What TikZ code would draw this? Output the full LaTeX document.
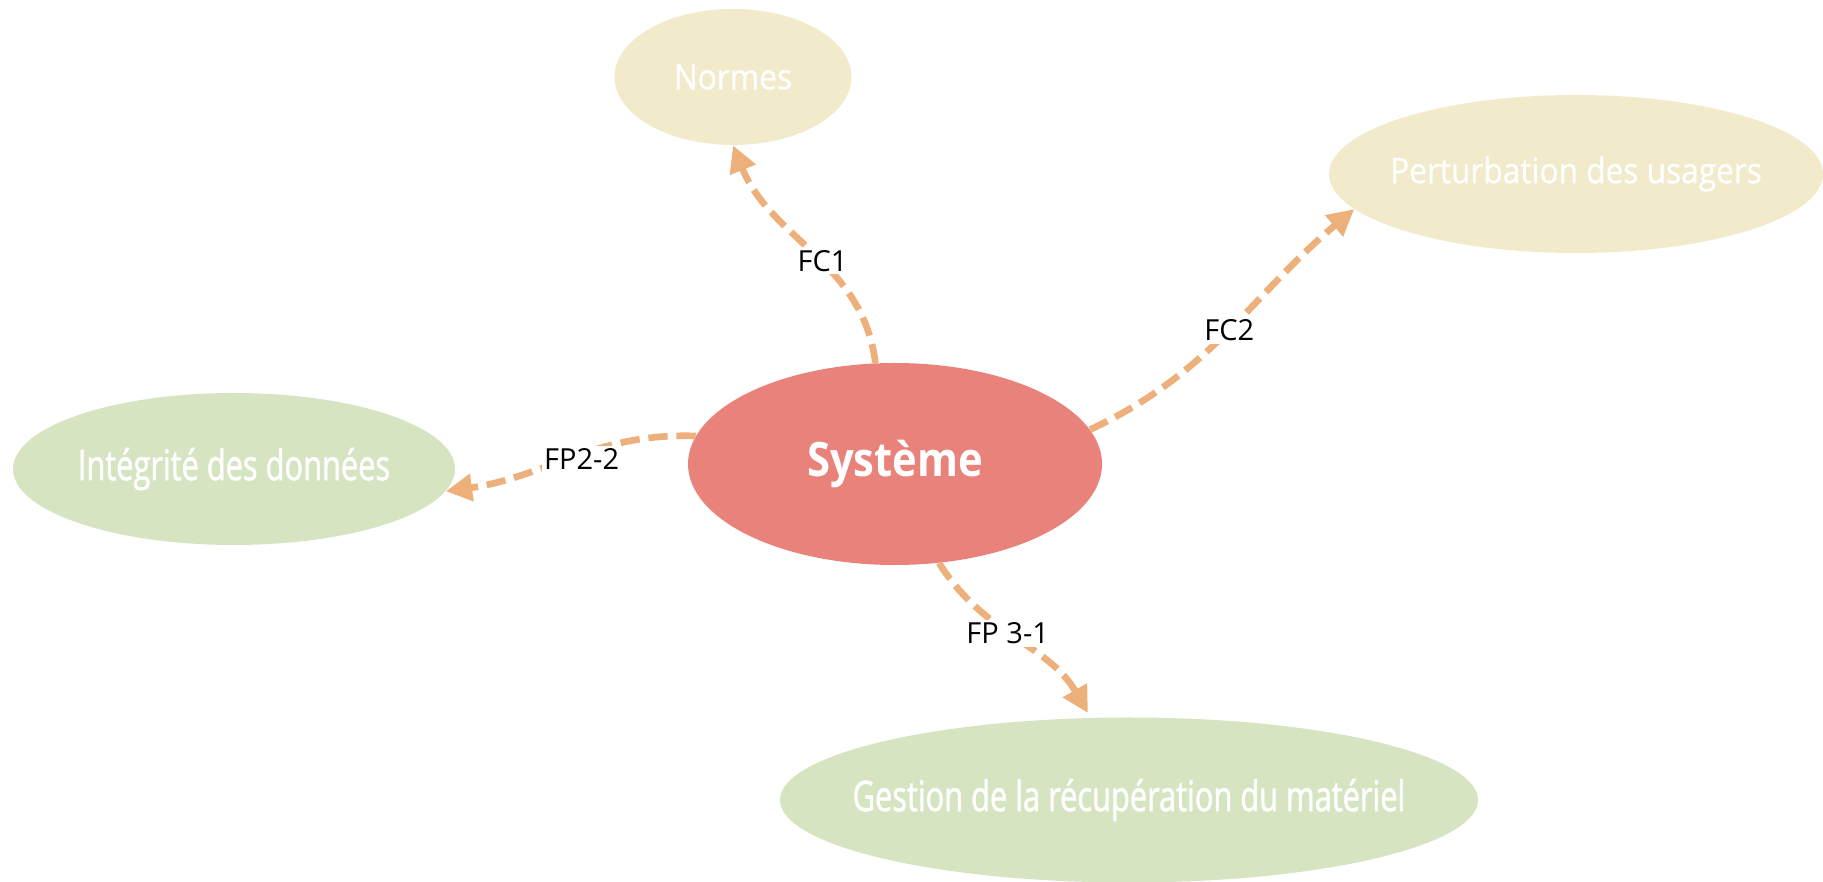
\documentclass[tikz,border=0pt]{standalone}
\usepackage{fontspec}
\setmainfont{Open Sans}
\newfontfamily\condfont[FakeStretch=0.73, FakeBold=1.2]{Open Sans}
\newfontfamily\midfont[FakeStretch=0.9, FakeBold=0.8]{Open Sans}
\newfontfamily\sysfont[FakeStretch=0.88]{Open Sans}
\usepackage{tikz}
\usetikzlibrary{positioning, arrows.meta, shapes, shapes.geometric}
\definecolor{sysred}{HTML}{E8827A}
\definecolor{fcbeige}{HTML}{F2EBCB}
\definecolor{fpgreen}{HTML}{D7E4C2}
\definecolor{arrorange}{HTML}{EEB07A}
\tikzset{blob/.style={ellipse, inner sep=0, text=white}}
\tikzset{sysblob/.style={blob, fill=sysred, font=\sysfont\bfseries\fontsize{27}{30}\selectfont}}
\tikzset{fcblob/.style={blob, fill=fcbeige, font=\midfont\fontsize{20}{24}\selectfont}}
\tikzset{fpblob/.style={blob, fill=fpgreen, font=\condfont\fontsize{24}{28}\selectfont}}
\tikzset{arr/.style={draw=arrorange, line width=3.8pt, dash pattern=on 11pt off 5pt, -{Triangle[length=15pt, width=15pt]}}}
\tikzset{lbl/.style={fill=white, inner sep=1.5pt, text=black, font=\fontsize{16.5}{19}\selectfont}}

\begin{document}
\begin{tikzpicture}
    \useasboundingbox (0,0) rectangle (36.46,17.64);
    \node[sysblob, minimum width=8.28cm, minimum height=4.04cm] (sys) at (17.90,8.36) {\makebox[0pt]{Système}};
    \node[fcblob, minimum width=4.74cm, minimum height=2.72cm] (norm) at (14.66,16.10) {\makebox[0pt]{Normes}};
    \node[fcblob, minimum width=9.88cm, minimum height=3.16cm] (pert) at (31.52,14.16) {\makebox[0pt]{Perturbation des usagers}};
    \node[fpblob, minimum width=8.84cm, minimum height=3.04cm] (integ) at (4.68,8.26) {\makebox[0pt]{Intégrité des données}};
    \node[fpblob, minimum width=13.96cm, minimum height=3.30cm] (gest) at (22.58,1.64) {\makebox[0pt]{Gestion de la récupération du matériel}};
    % contraintes
    \draw[arr] (sys.101) to[out=97, in=-68] node[lbl, pos=0.45] {FC1} (norm.south);
    \draw[arr] (sys.10) to[out=25, in=-140] node[lbl] {FC2} (pert.189);
    % fonctions principales
    \draw[arr] (sys.172) to[out=178, in=8] node[lbl, pos=0.45, yshift=-3pt] {FP2-2} (integ.-6);
    \draw[arr, shorten >=3pt] (sys.-66) to[out=-58, in=120] node[lbl, pos=0.45] {FP 3-1} (gest.115);
\end{tikzpicture}
\end{document}
